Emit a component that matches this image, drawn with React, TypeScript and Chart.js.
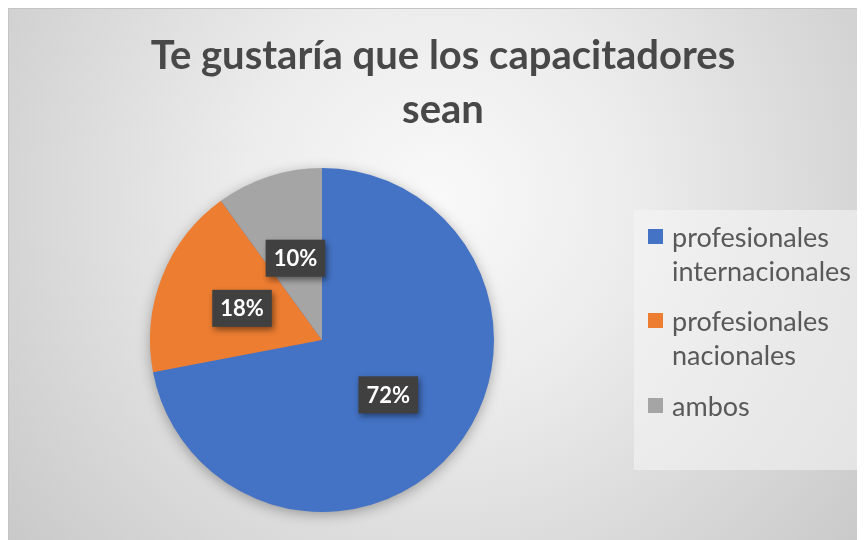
import React, { useEffect, useRef } from "react";
import { Chart, registerables } from "chart.js";

Chart.register(...registerables);

const titleLines = ["Te gustaría que los capacitadores", "sean"];
const categories = ["profesionales internacionales", "profesionales nacionales", "ambos"];
const legendLines = [["profesionales", "internacionales"], ["profesionales", "nacionales"], ["ambos"]];
const values = [72, 18, 10];
const colors = ["#4472C4", "#ED7D31", "#A5A5A5"];

const W = 857;
const H = 532;

const decorPlugin = {
  id: "decor",
  beforeDraw(chart: any) {
    const ctx = chart.ctx;
    ctx.save();
    const g = ctx.createRadialGradient(430, 190, 0, 430, 190, 560);
    g.addColorStop(0, "#f9f9f9");
    g.addColorStop(0.35, "#ececec");
    g.addColorStop(1, "#c8c8c8");
    ctx.fillStyle = g;
    ctx.fillRect(0, 0, W, H);
    ctx.fillStyle = "#c4c4c4";
    ctx.fillRect(0, 0, W, 1);
    ctx.fillRect(0, 0, 1, H);
    // title
    ctx.fillStyle = "#484848";
    ctx.font = "bold 40px Lato";
    ctx.textAlign = "center";
    ctx.textBaseline = "alphabetic";
    ctx.fillText(titleLines[0], 435, 61);
    ctx.fillText(titleLines[1], 435, 115);
    // legend box
    ctx.fillStyle = "rgba(245,245,245,0.55)";
    ctx.fillRect(626, 202, 228, 260);
    ctx.font = "27px Lato";
    ctx.textAlign = "left";
    ctx.textBaseline = "alphabetic";
    const baselines = [239, 323, 408];
    legendLines.forEach((lines, i) => {
      const y0 = baselines[i];
      ctx.fillStyle = colors[i];
      ctx.fillRect(640, y0 - 18, 15, 15);
      ctx.fillStyle = "#595959";
      lines.forEach((t, j) => ctx.fillText(t, 664, y0 + j * 34));
    });
    ctx.restore();
  },
  beforeDatasetsDraw(chart: any) {
    const ctx = chart.ctx;
    const arc = chart.getDatasetMeta(0).data[0];
    if (!arc) return;
    ctx.save();
    ctx.shadowColor = "rgba(0,0,0,0.35)";
    ctx.shadowBlur = 14;
    ctx.shadowOffsetY = 3;
    ctx.fillStyle = "#4472C4";
    ctx.beginPath();
    ctx.arc(arc.x, arc.y, arc.outerRadius - 1, 0, Math.PI * 2);
    ctx.fill();
    ctx.restore();
  },
  afterDatasetsDraw(chart: any) {
    const ctx = chart.ctx;
    const meta = chart.getDatasetMeta(0);
    ctx.save();
    ctx.font = "bold 22px Lato";
    ctx.textAlign = "center";
    ctx.textBaseline = "middle";
    meta.data.forEach((el: any, i: number) => {
      const p = el.tooltipPosition();
      const text = values[i] + "%";
      const w = ctx.measureText(text).width + 16;
      const h = 37;
      ctx.save();
      ctx.shadowColor = "rgba(0,0,0,0.45)";
      ctx.shadowBlur = 6;
      ctx.shadowOffsetX = 2;
      ctx.shadowOffsetY = 3;
      ctx.fillStyle = "#404040";
      ctx.fillRect(p.x - w / 2, p.y - h / 2, w, h);
      ctx.restore();
      ctx.fillStyle = "#ffffff";
      ctx.fillText(text, p.x, p.y + 1);
    });
    ctx.restore();
  },
};

export default function App() {
  const ref = useRef<HTMLCanvasElement>(null);
  useEffect(() => {
    if (!ref.current) return;
    const chart = new Chart(ref.current, {
      type: "pie",
      data: {
        labels: categories,
        datasets: [
          {
            data: values,
            backgroundColor: colors,
            borderWidth: 0,
          },
        ],
      },
      options: {
        animation: false,
        responsive: false,
        maintainAspectRatio: false,
        layout: { padding: { left: 142, right: 371, top: 160, bottom: 28 } },
        plugins: {
          legend: { display: false },
          title: { display: false },
          tooltip: { enabled: false },
        },
      },
      plugins: [decorPlugin],
    });
    return () => chart.destroy();
  }, []);
  return (
    <div style={{ width: W, height: H }}>
      <canvas ref={ref} width={W} height={H} style={{ display: "block", width: W, height: H }} />
    </div>
  );
}
